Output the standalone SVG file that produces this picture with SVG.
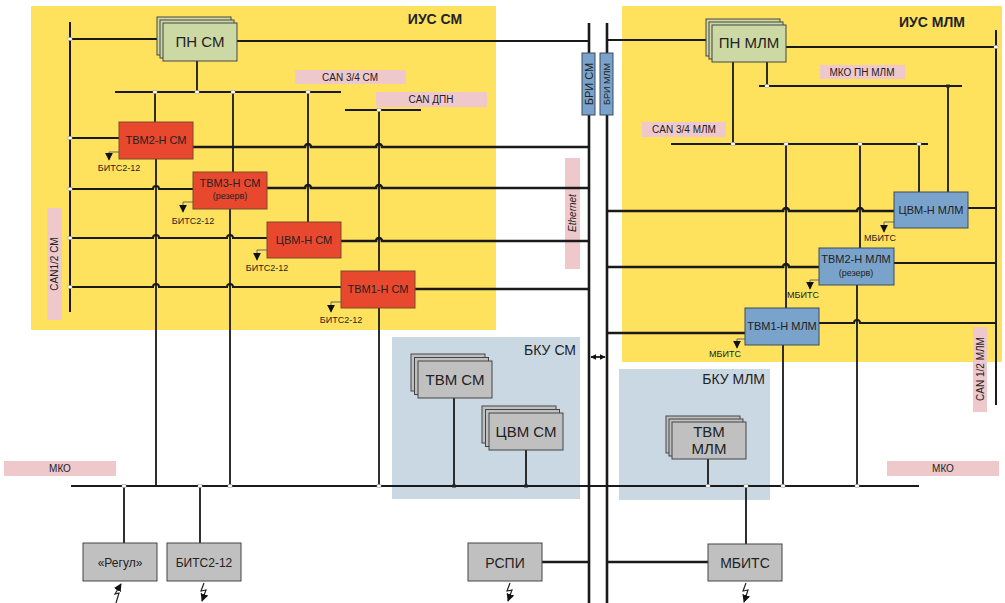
<svg xmlns="http://www.w3.org/2000/svg" width="1005" height="603" viewBox="0 0 1005 603">
<style>
.t{font-family:"Liberation Sans",Arial,sans-serif;fill:#222;text-anchor:middle}
.b{stroke:#1a1a1a;stroke-width:2;fill:none}
.v{stroke:#1a1a1a;stroke-width:1.8;fill:none}
.e{stroke:#1a1a1a;stroke-width:2.6;fill:none}
.pk{fill:#efc8cc}
.red{fill:#e8492e;stroke:#7a4a30;stroke-width:1}
.blu{fill:#7aa3cb;stroke:#3b4a5a;stroke-width:1}
.grn{fill:#cdd9a4;stroke:#444;stroke-width:1}
.gry{fill:#c0c0c0;stroke:#444;stroke-width:1}
.ld{stroke:#666;stroke-width:1;fill:none}
.zz{stroke:#222;stroke-width:1.2;fill:none}
.j{fill:#fff;stroke:#999;stroke-width:0.5}
.jb{fill:#222}
</style>
<defs>
<marker id="ah" viewBox="0 0 10 10" refX="9" refY="5" markerWidth="8" markerHeight="8" markerUnits="userSpaceOnUse" orient="auto"><path d="M0,0 L10,5 L0,10 z" fill="#111"/></marker>
<marker id="ah2" viewBox="0 0 10 10" refX="9" refY="5" markerWidth="6" markerHeight="6" markerUnits="userSpaceOnUse" orient="auto-start-reverse"><path d="M0,0 L10,5 L0,10 z" fill="#111"/></marker>
</defs>
<!-- regions -->
<rect x="31" y="6" width="465" height="324" fill="#fee25e"/>
<rect x="622" y="6" width="380" height="356" fill="#fee25e"/>
<rect x="392" y="337" width="188" height="162" fill="#cad8e4"/>
<rect x="619" y="369" width="151" height="131" fill="#cad8e4"/>
<text class="t" x="435" y="24" font-size="14" font-weight="bold">ИУС СМ</text>
<text class="t" x="932" y="27" font-size="14" font-weight="bold">ИУС МЛМ</text>
<text class="t" x="576" y="355" font-size="14" style="text-anchor:end">БКУ СМ</text>
<text class="t" x="765" y="384" font-size="14" style="text-anchor:end">БКУ МЛМ</text>
<!-- bus labels -->
<g id="labels">
<rect class="pk" x="295" y="70" width="111" height="14"/><text class="t" x="350" y="81" font-size="10">CAN 3/4 СМ</text>
<rect class="pk" x="376" y="92" width="111" height="15"/><text class="t" x="431" y="103" font-size="10">CAN ДПН</text>
<rect class="pk" x="820" y="65" width="85" height="14"/><text class="t" x="862" y="76" font-size="10">МКО ПН МЛМ</text>
<rect class="pk" x="642" y="122" width="84" height="15"/><text class="t" x="684" y="133" font-size="10">CAN 3/4 МЛМ</text>
<rect class="pk" x="47" y="208" width="15" height="112"/><text class="t" x="58" y="264" font-size="10" transform="rotate(-90 58 264)">CAN1/2 СМ</text>
<rect class="pk" x="565" y="158" width="15" height="111"/><text class="t" x="576" y="213" font-size="10" font-style="italic" transform="rotate(-90 576 213)">Ethernet</text>
<rect class="pk" x="973" y="327" width="14" height="85"/><text class="t" x="984" y="369" font-size="10" transform="rotate(-90 984 369)">CAN 1/2 МЛМ</text>
<rect class="pk" x="4" y="461" width="112" height="15"/><text class="t" x="60" y="472" font-size="10">МКО</text>
<rect class="pk" x="887" y="461" width="112" height="15"/><text class="t" x="943" y="472" font-size="10">МКО</text>
</g>
<!-- connectors -->
<g id="connectors">
<path class="e" d="M589,23 V603 M607,23 V603"/>
<path class="b" d="M70,22 V312 M996,30 V405"/>
<path class="b" d="M237,41 H589 M607,40 H706 M786,47 H996"/>
<path class="b" d="M115,92 H341 M345,110 H421 M759,86 H962 M671,144 H928"/>
<path class="b" d="M70,39 H157 M70,138 H119 M70,189 H153 a3,3 0 0 1 6,0 H193 M70,238 H153 a3,3 0 0 1 6,0 H227 a3,3 0 0 1 6,0 H267 M70,287 H153 a3,3 0 0 1 6,0 H227 a3,3 0 0 1 6,0 H341"/>
<path class="b" d="M968,208 H996 M894,263 H996 M819,323 H854 a3,3 0 0 1 6,0 H996"/>
<path class="e" d="M193,147 H305 a3,3 0 0 1 6,0 H376 a3,3 0 0 1 6,0 H589 M267,188 H305 a3,3 0 0 1 6,0 H376 a3,3 0 0 1 6,0 H589 M341,241 H376 a3,3 0 0 1 6,0 H589 M415,289 H589"/>
<path class="e" d="M607,211 H783 a3,3 0 0 1 6,0 H857 a3,3 0 0 1 6,0 H894 M607,267 H783 a3,3 0 0 1 6,0 H819 M607,333 H745"/>
<path class="v" d="M197,61 V92 M155,92 V122 M233,92 V172 M308,92 V222 M379,110 V271 M156,159 V486 M230,209 V486 M379,308 V486 M454,398 V486 M526,450 V486 M124,486 V543 M200,486 V543"/>
<path class="v" d="M733,62 V144 M767,62 V86 M948,86 V192 M919,144 V192 M860,144 V248 M786,144 V308 M857,285 V486 M783,345 V486 M708,459 V486 M746,486 V544"/>
<path class="b" d="M71,486 H919"/>
<path class="e" d="M542,562 H589 M607,562 H708"/>
<path class="v" d="M591,357 H605" marker-start="url(#ah2)" marker-end="url(#ah2)"/>
<g>
<rect class="j" x="68" y="37.5" width="4" height="3"/><rect class="j" x="68" y="136.5" width="4" height="3"/><rect class="j" x="68" y="187.5" width="4" height="3"/><rect class="j" x="68" y="236.5" width="4" height="3"/><rect class="j" x="68" y="285.5" width="4" height="3"/>
<rect class="j" x="153" y="90.5" width="4" height="3"/><rect class="j" x="195" y="90.5" width="4" height="3"/><rect class="j" x="231" y="90.5" width="4" height="3"/><rect class="j" x="306" y="90.5" width="4" height="3"/><rect class="j" x="377" y="108.5" width="4" height="3"/>
<rect class="j" x="122" y="484.5" width="4" height="3"/><rect class="j" x="198" y="484.5" width="4" height="3"/><rect class="j" x="228" y="484.5" width="4" height="3"/><rect class="j" x="377" y="484.5" width="4" height="3"/>
<rect class="jb" x="452" y="484.5" width="4" height="3"/><rect class="jb" x="524" y="484.5" width="4" height="3"/>
<rect class="j" x="706" y="484.5" width="4" height="3"/><rect class="j" x="744" y="484.5" width="4" height="3"/><rect class="j" x="781" y="484.5" width="4" height="3"/><rect class="j" x="855" y="484.5" width="4" height="3"/>
<rect class="j" x="994" y="45.5" width="4" height="3"/><rect class="j" x="765" y="84.5" width="4" height="3"/><rect class="jb" x="946" y="84.5" width="4" height="3"/>
<rect class="j" x="731" y="142.5" width="4" height="3"/><rect class="j" x="784" y="142.5" width="4" height="3"/><rect class="j" x="858" y="142.5" width="4" height="3"/><rect class="j" x="917" y="142.5" width="4" height="3"/>
</g>
<!-- BITS leaders -->
<path class="ld" d="M119,152 H109 V160" marker-end="url(#ah)"/>
<path class="ld" d="M193,202 H183 V212" marker-end="url(#ah)"/>
<path class="ld" d="M267,250 H257 V260" marker-end="url(#ah)"/>
<path class="ld" d="M341,302 H331 V312" marker-end="url(#ah)"/>
<path class="ld" d="M894,222 H884 V232" marker-end="url(#ah)"/>
<path class="ld" d="M819,280 H810 V289" marker-end="url(#ah)"/>
<path class="ld" d="M745,339 H737 V348" marker-end="url(#ah)"/>
<!-- zigzag arrows -->
<path class="zz" d="M116,603 L119,593 L115,594 L121,584" marker-end="url(#ah)"/>
<path class="zz" d="M204,583 L201,591 L206,590 L202,601" marker-end="url(#ah)"/>
<path class="zz" d="M510,583 L507,591 L512,590 L508,601" marker-end="url(#ah)"/>
<path class="zz" d="M746,583 L743,591 L748,590 L744,602" marker-end="url(#ah)"/>
</g>
<!-- BITS texts -->
<g id="bits-labels">
<text class="t" x="119" y="171" font-size="9">БИТС2-12</text>
<text class="t" x="193" y="224" font-size="9">БИТС2-12</text>
<text class="t" x="267" y="271" font-size="9">БИТС2-12</text>
<text class="t" x="341" y="323" font-size="9">БИТС2-12</text>
<text class="t" x="880" y="241" font-size="9">МБИТС</text>
<text class="t" x="803" y="298" font-size="9">МБИТС</text>
<text class="t" x="725" y="357" font-size="9">МБИТС</text>
</g>
<!-- BRI -->
<g id="bri-sm"><rect class="blu" x="582" y="53" width="13" height="62"/><text class="t" x="592.5" y="84" font-size="11" transform="rotate(-90 592.5 84)">БРИ СМ</text></g>
<g id="bri-mlm"><rect class="blu" x="600" y="53" width="13" height="62"/><text class="t" x="610" y="84" font-size="9" transform="rotate(-90 610 84)">БРИ МЛМ</text></g>
<!-- nodes -->
<g id="pn-sm"><rect class="grn" x="157" y="17" width="74" height="38"/><rect class="grn" x="160" y="20" width="74" height="38"/><rect class="grn" x="163" y="23" width="74" height="38"/><text class="t" x="200" y="47" font-size="15">ПН СМ</text></g>
<g id="pn-mlm"><rect class="grn" x="706" y="19" width="74" height="37"/><rect class="grn" x="709" y="22" width="74" height="37"/><rect class="grn" x="712" y="25" width="74" height="37"/><text class="t" x="749" y="48" font-size="15">ПН МЛМ</text></g>
<g id="tvm2-sm"><rect class="red" x="119" y="122" width="74" height="37"/><text class="t" x="156" y="144" font-size="11">ТВМ2-Н СМ</text></g>
<g id="tvm3-sm"><rect class="red" x="193" y="172" width="74" height="37"/><text class="t" x="230" y="187" font-size="11">ТВМ3-Н СМ</text><text class="t" x="230" y="199" font-size="9">(резерв)</text></g>
<g id="cvm-sm"><rect class="red" x="267" y="222" width="74" height="36"/><text class="t" x="304" y="244" font-size="11">ЦВМ-Н СМ</text></g>
<g id="tvm1-sm"><rect class="red" x="341" y="271" width="74" height="37"/><text class="t" x="378" y="293" font-size="11">ТВМ1-Н СМ</text></g>
<g id="cvm-mlm"><rect class="blu" x="894" y="192" width="74" height="36"/><text class="t" x="931" y="214" font-size="11">ЦВМ-Н МЛМ</text></g>
<g id="tvm2-mlm"><rect class="blu" x="819" y="248" width="75" height="37"/><text class="t" x="856" y="263" font-size="11">ТВМ2-Н МЛМ</text><text class="t" x="856" y="276" font-size="9">(резерв)</text></g>
<g id="tvm1-mlm"><rect class="blu" x="745" y="308" width="74" height="37"/><text class="t" x="782" y="330" font-size="11">ТВМ1-Н МЛМ</text></g>
<g id="tvm-sm"><rect class="gry" x="411" y="354" width="74" height="37"/><rect class="gry" x="414.5" y="357.5" width="74" height="37"/><rect class="gry" x="418" y="361" width="74" height="37"/><text class="t" x="455" y="385" font-size="15">ТВМ СМ</text></g>
<g id="cvm-bku"><rect class="gry" x="482" y="406" width="74" height="37"/><rect class="gry" x="485.5" y="409.5" width="74" height="37"/><rect class="gry" x="489" y="413" width="74" height="37"/><text class="t" x="526" y="437" font-size="15">ЦВМ СМ</text></g>
<g id="tvm-mlm"><rect class="gry" x="666" y="416" width="74" height="37"/><rect class="gry" x="669" y="419" width="74" height="37"/><rect class="gry" x="672" y="422" width="74" height="37"/><text class="t" x="709" y="437" font-size="15">ТВМ</text><text class="t" x="709" y="454" font-size="15">МЛМ</text></g>
<g id="regul"><rect class="gry" x="83" y="543" width="74" height="38"/><text class="t" x="120" y="567" font-size="12">«Регул»</text></g>
<g id="bits"><rect class="gry" x="167" y="543" width="74" height="38"/><text class="t" x="204" y="567" font-size="12">БИТС2-12</text></g>
<g id="rspi"><rect class="gry" x="468" y="543" width="74" height="38"/><text class="t" x="505" y="568" font-size="14">РСПИ</text></g>
<g id="mbits"><rect class="gry" x="708" y="544" width="74" height="37"/><text class="t" x="745" y="568" font-size="14">МБИТС</text></g>
</svg>
